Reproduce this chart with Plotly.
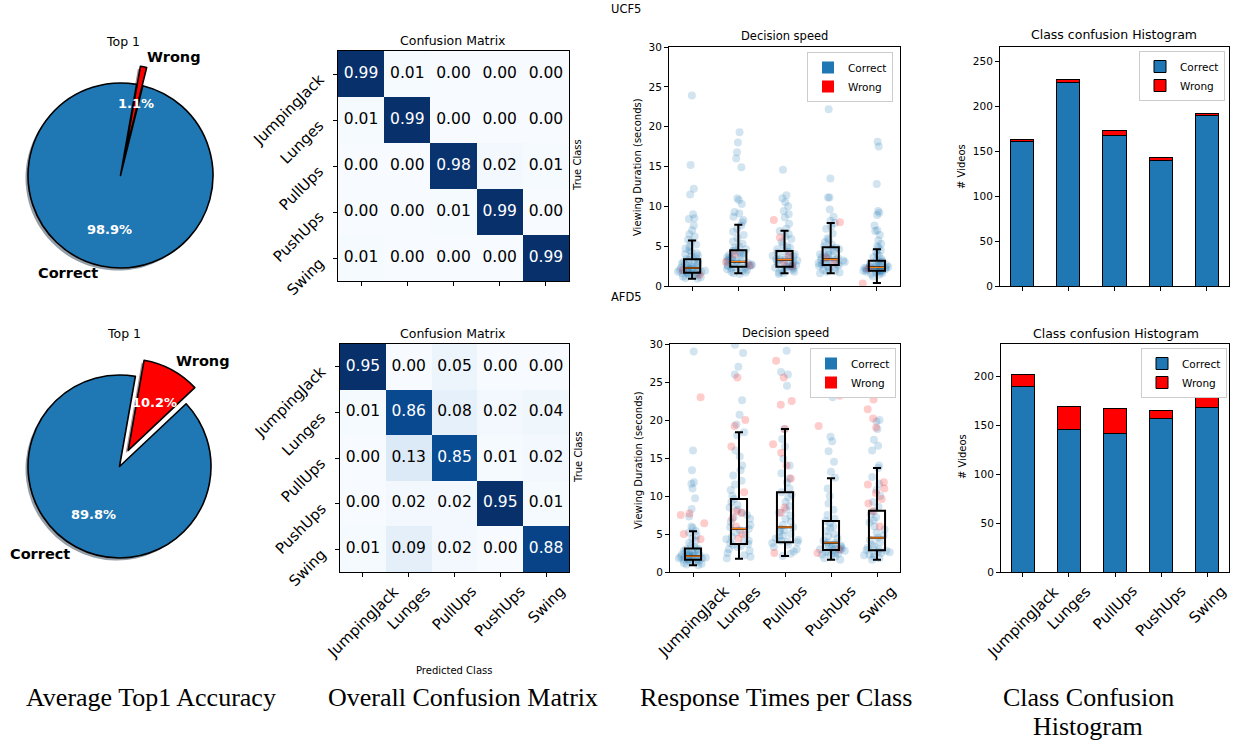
import plotly.graph_objects as go

W, H = 1233, 742

# ---------------- data ----------------
classes = ["JumpingJack", "Lunges", "PullUps", "PushUps", "Swing"]
datasets = ["UCF5", "AFD5"]
pie_labels = ["Wrong", "Correct"]
pie_ucf5 = [1.1, 98.9]
pie_afd5 = [10.2, 89.8]

cm_ucf5 = [[0.99, 0.01, 0.00, 0.00, 0.00],
           [0.01, 0.99, 0.00, 0.00, 0.00],
           [0.00, 0.00, 0.98, 0.02, 0.01],
           [0.00, 0.00, 0.01, 0.99, 0.00],
           [0.01, 0.00, 0.00, 0.00, 0.99]]
cm_afd5 = [[0.95, 0.00, 0.05, 0.00, 0.00],
           [0.01, 0.86, 0.08, 0.02, 0.04],
           [0.00, 0.13, 0.85, 0.01, 0.02],
           [0.00, 0.02, 0.02, 0.95, 0.01],
           [0.01, 0.09, 0.02, 0.00, 0.88]]

bar_correct_ucf5 = [161, 227, 168, 140, 190]
bar_wrong_ucf5 = [2, 3, 5, 3, 2]
bar_correct_afd5 = [190, 146, 142, 157, 168]
bar_wrong_afd5 = [12, 24, 25, 8, 23]

# box statistics
box_ucf5_lo = [0.92, 1.59, 1.59, 1.6, 0.38]
box_ucf5_q1 = [1.67, 2.42, 2.42, 2.63, 1.92]
box_ucf5_med = [2.26, 3.05, 3.3, 3.35, 2.35]
box_ucf5_q3 = [3.35, 4.5, 4.39, 4.85, 3.17]
box_ucf5_hi = [5.7, 7.7, 6.94, 7.9, 4.6]

box_afd5_lo = [0.9, 1.75, 2.1, 1.6, 1.6]
box_afd5_q1 = [1.6, 3.7, 3.9, 2.9, 2.85]
box_afd5_med = [2.1, 5.7, 5.9, 3.85, 4.5]
box_afd5_q3 = [3.1, 9.6, 10.5, 6.7, 8.05]
box_afd5_hi = [5.35, 18.4, 18.8, 12.35, 13.7]

# individual viewing durations (seconds), per class
rt_ucf5_correct = [
    [23.9, 15.2, 12.2, 11.5, 9.0, 8.5, 8.4, 7.6, 7.0, 6.5, 6.2, 5.8, 5.5, 5.2, 4.9, 4.7, 4.5, 4.3, 4.1, 4.0,
     3.8, 3.7, 3.5, 3.4, 3.3, 3.2, 3.1, 3.0, 2.9, 2.8, 2.7, 2.6, 2.5, 2.5, 2.4, 2.3, 2.3, 2.2, 2.2, 2.1,
     2.1, 2.0, 2.0, 1.9, 1.9, 1.8, 1.8, 1.7, 1.7, 1.6, 1.6, 1.5, 1.5, 1.4, 1.3, 1.2, 1.1, 1.0, 0.9],
    [19.3, 18.0, 16.8, 16.0, 14.9, 11.0, 10.8, 10.3, 9.3, 9.1, 8.7, 8.3, 8.0, 7.6, 7.2, 6.8, 6.4, 6.0, 5.6,
     5.3, 5.0, 4.8, 4.6, 4.5, 4.4, 4.2, 4.1, 4.0, 3.9, 3.8, 3.7, 3.6, 3.5, 3.4, 3.3, 3.2, 3.1, 3.0, 3.0,
     2.9, 2.8, 2.7, 2.6, 2.6, 2.5, 2.5, 2.4, 2.4, 2.3, 2.2, 2.1, 2.0, 1.9, 1.8, 1.7, 1.6, 1.5],
    [14.6, 11.4, 11.0, 10.5, 10.0, 9.4, 9.0, 8.6, 7.8, 7.2, 6.9, 6.5, 6.2, 5.9, 5.5, 5.2, 5.0, 4.8, 4.6,
     4.4, 4.3, 4.2, 4.0, 3.9, 3.8, 3.7, 3.6, 3.5, 3.4, 3.3, 3.3, 3.2, 3.1, 3.0, 2.9, 2.8, 2.7, 2.6, 2.5,
     2.5, 2.4, 2.4, 2.3, 2.2, 2.1, 2.0, 1.9, 1.8, 1.7, 1.6, 1.5],
    [22.2, 13.5, 11.1, 11.1, 9.6, 8.7, 8.2, 7.9, 7.5, 7.2, 6.6, 6.0, 5.8, 5.5, 5.2, 5.0, 4.8, 4.7, 4.6,
     4.4, 4.3, 4.1, 4.0, 3.9, 3.8, 3.7, 3.6, 3.5, 3.4, 3.3, 3.3, 3.2, 3.1, 3.0, 2.9, 2.8, 2.8, 2.7, 2.7,
     2.6, 2.5, 2.4, 2.3, 2.1, 2.0, 1.9, 1.8, 1.7, 1.6],
    [18.1, 17.5, 12.8, 9.4, 9.2, 8.9, 7.6, 7.0, 6.9, 6.4, 5.7, 5.3, 5.0, 4.8, 4.5, 4.3, 4.0, 3.8, 3.6,
     3.4, 3.2, 3.1, 3.0, 2.9, 2.8, 2.7, 2.6, 2.6, 2.5, 2.5, 2.4, 2.4, 2.3, 2.3, 2.3, 2.2, 2.2, 2.1, 2.1,
     2.0, 2.0, 2.0, 1.9, 1.9, 1.9, 1.8, 1.8, 1.7, 1.6, 1.5, 1.4, 1.2],
]
rt_ucf5_wrong = [
    [2.0, 1.4],
    [3.0, 2.6, 4.0],
    [8.3, 6.1, 3.8, 3.0, 2.5],
    [8.0, 3.5, 2.9],
    [0.3, 2.2],
]
rt_afd5_correct = [
    [29.0, 16.0, 13.4, 11.8, 11.6, 11.0, 9.7, 8.3, 7.3, 6.0, 5.8, 5.4, 5.2, 4.8, 4.4, 4.1, 3.8, 3.5, 3.3,
     3.1, 3.0, 2.9, 2.8, 2.7, 2.6, 2.5, 2.4, 2.4, 2.3, 2.3, 2.2, 2.2, 2.1, 2.1, 2.0, 2.0, 1.9, 1.9, 1.8,
     1.8, 1.7, 1.7, 1.6, 1.6, 1.5, 1.5, 1.4, 1.3, 1.2, 1.1, 1.0, 0.9],
    [29.9, 28.8, 27.0, 26.0, 22.6, 20.7, 19.4, 18.4, 18.0, 16.0, 15.2, 14.0, 13.4, 12.7, 12.0, 11.5, 10.8,
     10.0, 9.6, 9.2, 8.8, 8.5, 8.2, 7.8, 7.5, 7.2, 7.0, 6.6, 6.2, 5.9, 5.7, 5.5, 5.2, 4.9, 4.6, 4.3, 4.1,
     4.0, 3.8, 3.7, 3.6, 3.4, 3.3, 3.0, 2.8, 2.5, 2.2, 2.0, 1.8],
    [29.1, 26.3, 26.0, 24.5, 18.8, 17.5, 16.5, 14.9, 14.0, 13.0, 12.3, 11.8, 11.0, 10.5, 10.2, 9.8, 9.2,
     8.7, 8.2, 7.8, 7.4, 7.0, 6.6, 6.2, 5.9, 5.7, 5.5, 5.3, 5.0, 4.8, 4.6, 4.4, 4.2, 4.1, 4.0, 3.9, 3.8,
     3.6, 3.3, 3.0, 2.7, 2.4, 2.1],
    [24.6, 23.0, 17.8, 17.2, 15.9, 14.5, 13.2, 12.4, 11.0, 10.0, 9.0, 8.2, 7.5, 7.0, 6.7, 6.4, 6.0, 5.8,
     5.4, 5.0, 4.7, 4.4, 4.1, 3.9, 3.8, 3.7, 3.6, 3.5, 3.4, 3.3, 3.2, 3.1, 3.0, 3.0, 2.9, 2.9, 2.8, 2.7,
     2.6, 2.5, 2.4, 2.3, 2.2, 2.0, 1.8, 1.6],
    [24.2, 20.0, 19.8, 18.8, 17.4, 16.6, 16.0, 14.0, 13.7, 12.5, 11.6, 10.8, 10.0, 9.2, 8.6, 8.0, 7.6,
     7.2, 6.8, 6.5, 6.0, 5.6, 5.2, 4.8, 4.5, 4.2, 3.9, 3.6, 3.4, 3.2, 3.0, 2.9, 2.8, 2.7, 2.6, 2.5, 2.4,
     2.3, 2.2, 2.0, 1.8, 1.6],
]
rt_afd5_wrong = [
    [23.0, 7.7, 7.5, 6.4, 5.0, 4.3],
    [25.6, 20.0, 19.2, 16.5, 10.5, 8.0, 7.8, 7.0, 6.0, 5.0, 4.4],
    [27.8, 25.6, 22.5, 22.0, 18.8, 16.8, 15.7, 14.0, 12.3, 8.5, 7.8, 2.5],
    [23.2, 19.2, 3.0, 2.5],
    [22.7, 21.4, 20.2, 19.0, 11.8, 11.5, 11.0, 10.4, 9.6, 9.0, 8.0, 6.0],
]

captions = ["Average Top1 Accuracy", "Overall Confusion Matrix", "Response Times per Class",
            "Class Confusion", "Histogram"]

# ---------------- style ----------------
FONT = "DejaVu Sans"
SERIF = "Liberation Serif"
BLUE = "#1f77b4"
RED = "#ff0000"
BLUES = [[0.0, "#f7fbff"], [0.125, "#deebf7"], [0.25, "#c6dbef"], [0.375, "#9ecae1"],
         [0.5, "#6baed6"], [0.625, "#4292c6"], [0.75, "#2171b5"], [0.875, "#08519c"], [1.0, "#08306b"]]


def px(x):
    return x / W


def py(y):
    return 1 - y / H


def xdom(a, b):
    return [px(a), px(b)]


def ydom(top, bottom):
    return [py(bottom), py(top)]


fig = go.Figure()
ann = []
idx = list(range(len(classes)))


def add_text(x, y, text, size, bold=False, color="black", angle=0, family=FONT, xanchor="center"):
    t = f"<b>{text}</b>" if bold else text
    ann.append(dict(x=px(x), y=py(y), xref="paper", yref="paper", text=t, showarrow=False,
                    font=dict(family=family, size=size, color=color), textangle=angle,
                    xanchor=xanchor, yanchor="middle"))


def xtick_labels(axis_id, bottom_px):
    # rotated category labels centred under their ticks
    for i, c in zip(idx, classes):
        ann.append(dict(x=i, y=py(bottom_px + 9), xref=f"x{axis_id}", yref="paper", text=c,
                        showarrow=False, textangle=-45, xanchor="center", yanchor="top",
                        font=dict(family=FONT, size=15, color="black"), borderpad=0))


def ytick_labels(axis_id, left_px):
    for i, c in zip(idx, classes):
        ann.append(dict(x=px(left_px - 9), y=i, xref="paper", yref=f"y{axis_id}", text=c,
                        showarrow=False, textangle=-45, xanchor="right", yanchor="top", yshift=5,
                        font=dict(family=FONT, size=15, color="black"), borderpad=0))


# ---------------- pies ----------------
pie_geo = [(120.5, 175.5, 92.5), (119.5, 466.5, 91.5)]
pie_vals = [pie_ucf5, pie_afd5]
PULL = 0.2
for (cx, cy, r), vals in zip(pie_geo, pie_vals):
    half = r * (1 + PULL)
    # shadow
    fig.add_trace(go.Pie(labels=pie_labels, values=vals, sort=False, direction="clockwise", rotation=10,
                         pull=[PULL, 0], textinfo="none", hoverinfo="skip", showlegend=False,
                         marker=dict(colors=["rgba(80,0,0,0.45)", "rgba(20,40,60,0.45)"], line=dict(width=0)),
                         domain=dict(x=xdom(cx - half - 2.5, cx + half - 2.5), y=ydom(cy - half + 2.5, cy + half + 2.5))))
    fig.add_trace(go.Pie(labels=pie_labels, values=vals, sort=False, direction="clockwise", rotation=10,
                         pull=[PULL, 0], textinfo="none", showlegend=False,
                         marker=dict(colors=[RED, BLUE], line=dict(width=1.6, color="black")),
                         domain=dict(x=xdom(cx - half, cx + half), y=ydom(cy - half, cy + half))))

add_text(123, 41, "Top 1", 12.5)
add_text(174, 57, pie_labels[0], 14.5, bold=True)
add_text(68, 273, pie_labels[1], 14.5, bold=True)
add_text(136, 103, f"{pie_ucf5[0]}%", 13, bold=True, color="white")
add_text(109, 229, f"{pie_ucf5[1]}%", 13, bold=True, color="white")
add_text(124, 333, "Top 1", 12.5)
add_text(203, 361, pie_labels[0], 14.5, bold=True)
add_text(40, 554, pie_labels[1], 14.5, bold=True)
add_text(154, 402, f"{pie_afd5[0]}%", 13, bold=True, color="white")
add_text(93, 514, f"{pie_afd5[1]}%", 13, bold=True, color="white")

# ---------------- layout skeleton ----------------
rows = [(51, 281), (344, 572)]          # heatmap rows (top, bottom)
rows_plot = [(47, 286), (344, 572)]     # box / bar rows
layout = dict(width=W, height=H, margin=dict(l=0, r=0, t=0, b=0, autoexpand=False),
              paper_bgcolor="white", plot_bgcolor="white", barmode="stack", boxmode="overlay",
              font=dict(family=FONT, color="black"))

frame = dict(showline=True, mirror=True, linecolor="black", linewidth=1, showgrid=False, zeroline=False,
             ticks="outside", ticklen=4, tickcolor="black", tickwidth=1, automargin=False)

cms = [cm_ucf5, cm_afd5]
bars_c = [bar_correct_ucf5, bar_correct_afd5]
bars_w = [bar_wrong_ucf5, bar_wrong_afd5]
rts_c = [rt_ucf5_correct, rt_afd5_correct]
rts_w = [rt_ucf5_wrong, rt_afd5_wrong]
box_stats = [(box_ucf5_lo, box_ucf5_q1, box_ucf5_med, box_ucf5_q3, box_ucf5_hi),
             (box_afd5_lo, box_afd5_q1, box_afd5_med, box_afd5_q3, box_afd5_hi)]
heat_x = [(338, 569), (340, 569)]
box_x = [(669, 900), (670, 900)]
bar_x = [(1000, 1229), (1001, 1229)]
bar_ymax = [266, 233.5]
legend_pos_box = [(893, 52), (896, 348)]
legend_pos_bar = [(1225, 51), (1227, 348)]
legend_style = dict(xanchor="right", yanchor="top", bgcolor="white", bordercolor="#cccccc",
                    borderwidth=1, font=dict(size=10.5), tracegroupgap=0, itemwidth=30,
                    traceorder="normal")

for r in range(2):
    last = (r == 1)
    ax_h, ax_b, ax_r = 3 * r + 1, 3 * r + 2, 3 * r + 3
    # --- heatmap ---
    z = cms[r]
    zmax = max(max(row) for row in z)
    fig.add_trace(go.Heatmap(z=z, x=idx, y=idx, colorscale=BLUES, zmin=0, zmax=zmax, showscale=False,
                             xaxis=f"x{ax_h}", yaxis=f"y{ax_h}", hoverinfo="skip"))
    tx, ty, tt, tc = [], [], [], []
    for i, row in enumerate(z):
        for j, v in enumerate(row):
            tx.append(j)
            ty.append(i)
            tt.append(f"{v:.2f}")
            tc.append("white" if v > zmax / 2 else "black")
    fig.add_trace(go.Scatter(x=tx, y=ty, mode="text", text=tt, textfont=dict(size=15.5, color=tc, family=FONT),
                             showlegend=False, hoverinfo="skip", xaxis=f"x{ax_h}", yaxis=f"y{ax_h}"))
    layout[f"xaxis{ax_h}"] = dict(frame, domain=xdom(*heat_x[r]), range=[-0.5, 4.5], tickvals=idx,
                                  showticklabels=False, anchor=f"y{ax_h}")
    layout[f"yaxis{ax_h}"] = dict(frame, domain=ydom(*rows[r]), range=[4.5, -0.5], tickvals=idx,
                                  showticklabels=False, anchor=f"x{ax_h}")
    ytick_labels(ax_h, heat_x[r][0])

    # --- strip + box ---
    for k, (series, col) in enumerate([(rts_c[r], "rgba(31,119,180,0.2)"), (rts_w[r], "rgba(255,0,0,0.2)")]):
        xs, ys = [], []
        for ci, vals in enumerate(series):
            xs += [ci] * len(vals)
            ys += vals
        fig.add_trace(go.Box(x=xs, y=ys, boxpoints="all", jitter=0.9, pointpos=0, width=0.7,
                             fillcolor="rgba(0,0,0,0)", line=dict(width=0, color="rgba(0,0,0,0)"),
                             marker=dict(color=col, size=8), showlegend=False, hoverinfo="skip",
                             xaxis=f"x{ax_b}", yaxis=f"y{ax_b}"))
    lo, q1, med, q3, hi = box_stats[r]
    fig.add_trace(go.Box(x=idx, lowerfence=lo, q1=q1, median=med, q3=q3, upperfence=hi, width=0.35,
                         whiskerwidth=0.5, boxpoints=False, fillcolor="rgba(0,0,0,0)",
                         line=dict(color="black", width=2), showlegend=False, hoverinfo="skip",
                         xaxis=f"x{ax_b}", yaxis=f"y{ax_b}"))
    fig.add_trace(go.Box(x=idx, lowerfence=med, q1=med, median=med, q3=med, upperfence=med, width=0.31,
                         whiskerwidth=0, boxpoints=False, fillcolor="rgba(0,0,0,0)",
                         line=dict(color="#ff7f0e", width=1.2), showlegend=False, hoverinfo="skip",
                         xaxis=f"x{ax_b}", yaxis=f"y{ax_b}"))
    leg_box = "legend" if r == 0 else "legend3"
    for name, col in [("Correct", BLUE), ("Wrong", RED)]:
        fig.add_trace(go.Bar(x=[None], y=[None], name=name, marker=dict(color=col, line=dict(width=0)),
                             xaxis=f"x{ax_b}", yaxis=f"y{ax_b}", legend=leg_box))
    layout[f"xaxis{ax_b}"] = dict(frame, domain=xdom(*box_x[r]), range=[-0.5, 4.5], tickvals=idx,
                                  showticklabels=False, anchor=f"y{ax_b}")
    layout[f"yaxis{ax_b}"] = dict(frame, domain=ydom(*rows_plot[r]), range=[0, 30], dtick=5,
                                  tickfont=dict(size=10.5), anchor=f"x{ax_b}")
    lx, ly = legend_pos_box[r]
    layout[leg_box] = dict(legend_style, x=px(lx), y=py(ly))

    # --- stacked bars ---
    leg_bar = "legend2" if r == 0 else "legend4"
    fig.add_trace(go.Bar(x=idx, y=bars_c[r], width=0.5, name="Correct", legend=leg_bar,
                         marker=dict(color=BLUE, line=dict(color="black", width=1)),
                         xaxis=f"x{ax_r}", yaxis=f"y{ax_r}"))
    fig.add_trace(go.Bar(x=idx, y=bars_w[r], width=0.5, name="Wrong", legend=leg_bar,
                         marker=dict(color=RED, line=dict(color="black", width=1)),
                         xaxis=f"x{ax_r}", yaxis=f"y{ax_r}"))
    layout[f"xaxis{ax_r}"] = dict(frame, domain=xdom(*bar_x[r]), range=[-0.476, 4.476], tickvals=idx,
                                  showticklabels=False, anchor=f"y{ax_r}")
    layout[f"yaxis{ax_r}"] = dict(frame, domain=ydom(*rows_plot[r]), range=[0, bar_ymax[r]], dtick=50,
                                  tickfont=dict(size=10.5), anchor=f"x{ax_r}")
    lx, ly = legend_pos_bar[r]
    layout[leg_bar] = dict(legend_style, x=px(lx), y=py(ly))

    if last:
        bottom = rows_plot[r][1]
        xtick_labels(ax_h, bottom)
        xtick_labels(ax_b, bottom)
        xtick_labels(ax_r, bottom)

# ---------------- titles & labels ----------------
add_text(626, 9, datasets[0], 11.5)
add_text(626, 297, datasets[1], 11.5)
for yy in (40, 333):
    add_text(453, yy, "Confusion Matrix", 12.5)
add_text(784, 36, "Decision speed", 11.5)
add_text(785, 333, "Decision speed", 11.5)
add_text(1114, 35, "Class confusion Histogram", 12.5)
add_text(1116, 333, "Class confusion Histogram", 12.5)
add_text(578, 165, "True Class", 10, angle=-90)
add_text(578, 457, "True Class", 10, angle=-90)
add_text(454, 670, "Predicted Class", 10)
add_text(637, 167, "Viewing Duration (seconds)", 10, angle=-90)
add_text(638, 460, "Viewing Duration (seconds)", 10, angle=-90)
add_text(961, 167, "# Videos", 10, angle=-90)
add_text(962, 457, "# Videos", 10, angle=-90)

add_text(151, 697, captions[0], 26, family=SERIF)
add_text(463, 697, captions[1], 26, family=SERIF)
add_text(776, 697, captions[2], 26, family=SERIF)
add_text(1088, 697, captions[3], 26, family=SERIF)
add_text(1088, 726, captions[4], 26, family=SERIF)

layout["annotations"] = ann
fig.update_layout(**layout)
fig.write_html("out.html", config={"displayModeBar": False},
               post_script="document.body.style.margin='0';document.body.style.padding='0';")
